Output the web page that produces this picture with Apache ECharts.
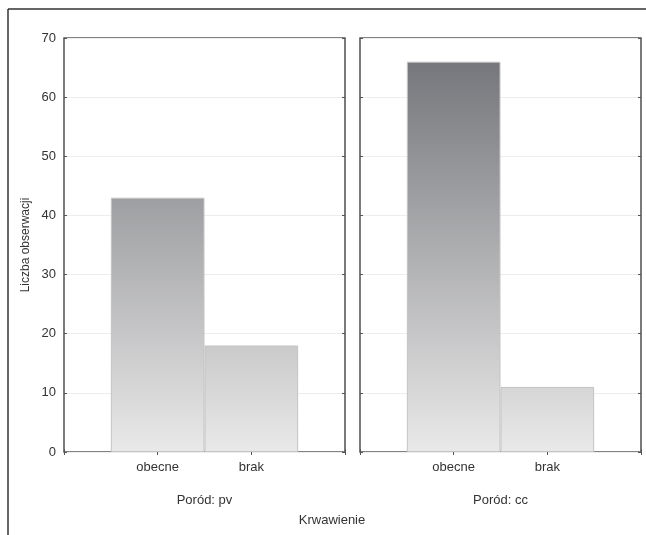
<!DOCTYPE html>
<html><head><meta charset="utf-8">
<script src="https://cdn.jsdelivr.net/npm/echarts@6/dist/echarts.min.js"></script>
<style>html,body{margin:0;padding:0;background:#fff}#c{width:646px;height:535px}</style>
</head><body><div id="c"></div>
<script>
var categories = ['', 'obecne', 'brak', ''];
var panelTitles = ['Poród: pv', 'Poród: cc'];
var valuesPv = ['-', 43, 18, '-'];
var valuesCc = ['-', 66, 11, '-'];
var yTicks = [0, 10, 20, 30, 40, 50, 60, 70];

var chart = echarts.init(document.getElementById('c'));
var font = 'Liberation Sans, Arial, sans-serif';
var grad = {type:'linear', x:0, y:38, x2:0, y2:452, global:true,
  colorStops:[{offset:0,color:'#6f7075'},{offset:1,color:'#e9e9e9'}]};
var grids = [
  {left:64, top:38, width:281, height:414, show:true, borderColor:'#5a5a5a', borderWidth:1.6, backgroundColor:'transparent'},
  {left:360, top:38, width:281, height:414, show:true, borderColor:'#5a5a5a', borderWidth:1.6, backgroundColor:'transparent'}
];
var xAxes = [], yAxes = [], series = [];
[valuesPv, valuesCc].forEach(function(vals, i){
  xAxes.push({type:'category', gridIndex:i, data:categories, boundaryGap:false, position:'bottom',
    axisLine:{show:false}, axisTick:{show:true, inside:true, length:3, lineStyle:{color:'#555'}, interval:0},
    axisLabel:{interval:0, color:'#333', fontSize:13, fontFamily:font, margin:9},
    name:panelTitles[i], nameLocation:'middle', nameGap:42,
    nameTextStyle:{color:'#333', fontSize:13, fontFamily:font}});
  xAxes.push({type:'category', gridIndex:i, data:categories, boundaryGap:false, position:'top',
    axisLine:{show:false}, axisTick:{show:true, inside:true, length:3, lineStyle:{color:'#555'}, interval:0},
    axisLabel:{show:false}});
  yAxes.push({type:'value', gridIndex:i, min:0, max:70, interval:10, position:'left',
    axisLine:{show:false}, axisTick:{show:true, inside:true, length:3, lineStyle:{color:'#555'}},
    axisLabel:{show:i===0, color:'#333', fontSize:13, fontFamily:font, margin:8,
      formatter:function(v){return yTicks.indexOf(v)>=0 ? String(v) : '';}},
    splitLine:{show:true, lineStyle:{color:'#ededed', width:1}},
    name:i===0?'Liczba obserwacji':'', nameLocation:'middle', nameGap:32,
    nameTextStyle:{color:'#333', fontSize:12, fontFamily:font}});
  yAxes.push({type:'value', gridIndex:i, min:0, max:70, interval:10, position:'right',
    axisLine:{show:false}, axisTick:{show:true, inside:true, length:3, lineStyle:{color:'#555'}},
    axisLabel:{show:false}, splitLine:{show:false}});
  series.push({type:'bar', xAxisIndex:i*2, yAxisIndex:i*2, data:vals, barCategoryGap:'0%',
    itemStyle:{color:grad, borderColor:'#c4c4c4', borderWidth:1}, silent:true});
});
chart.setOption({
  animation:false,
  grid:grids, xAxis:xAxes, yAxis:yAxes, series:series,
  graphic:[
    {type:'line', shape:{x1:8, y1:9, x2:646, y2:9}, style:{stroke:'#333', lineWidth:1.5}},
    {type:'line', shape:{x1:8, y1:9, x2:8, y2:535}, style:{stroke:'#333', lineWidth:1.5}},
    {type:'text', x:332, y:520, style:{text:'Krwawienie', fill:'#333', font:'13px '+font, textAlign:'center', textVerticalAlign:'middle'}}
  ]
});
</script></body></html>
